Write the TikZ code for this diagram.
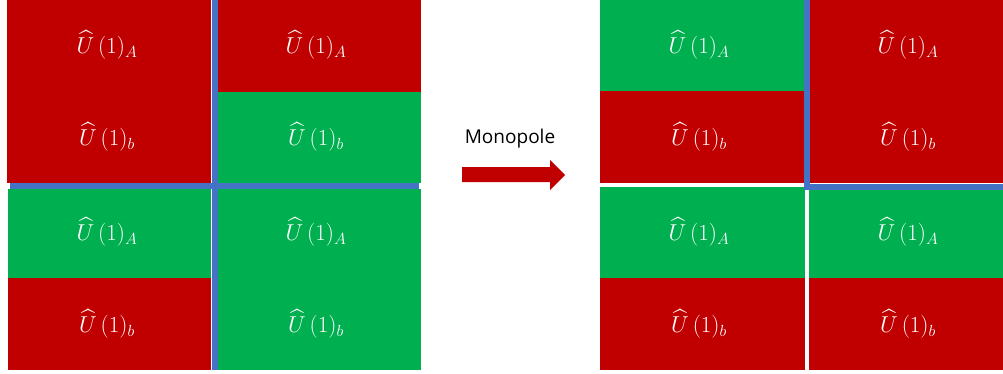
\RequirePackage{fix-cm}
\documentclass[tikz,border=0pt]{standalone}
\usepackage{amsmath}
\usepackage{fontspec}
\newfontfamily\captionfont{Open Sans}
\definecolor{cellred}{HTML}{C00000}
\definecolor{cellgreen}{HTML}{00B050}
\definecolor{wallblue}{HTML}{4472C4}
\tikzset{
  redcell/.style={fill=cellred},
  greencell/.style={fill=cellgreen},
  wall/.style={fill=wallblue},
  charge/.style={text=white, inner sep=0pt, font=\fontsize{23}{27}\selectfont},
  caption/.style={text=black, inner sep=0pt, font=\captionfont\fontsize{19}{22}\selectfont},
}
\newcommand{\UA}{$\widehat{U}\,(1)_A$}
\newcommand{\Ub}{$\widehat{U}\,(1)_b$}
\begin{document}
\begin{tikzpicture}[x=1pt, y=-1pt]
\useasboundingbox[fill=white] (0,0) rectangle (1003,373);

% ---- left configuration ----
\fill[redcell]   (7,0)   rectangle (211,183);
\fill[redcell]   (218,0) rectangle (421,92);
\fill[greencell] (218,92) rectangle (421,183);
\fill[greencell] (8,189) rectangle (211,278);
\fill[redcell]   (8,278) rectangle (211,370);
\fill[greencell] (218,189) rectangle (421,370);
\fill[wall] (211.5,0) rectangle (217.5,370);
\fill[wall] (10,183) rectangle (419,189);

\node[charge] (l1) at (107,45)  {\UA};
\node[charge] (l2) at (107,137) {\Ub};
\node[charge] (l3) at (107,232) {\UA};
\node[charge] (l4) at (107,324) {\Ub};
\node[charge] (l5) at (316,45)  {\UA};
\node[charge] (l6) at (316,137) {\Ub};
\node[charge] (l7) at (316,232) {\UA};
\node[charge] (l8) at (316,324) {\Ub};

% ---- transition arrow ----
\node[caption] (mono) at (510,139) {Monopole};
\fill[cellred] (462,167) -- (550,167) -- (550,160) -- (565,175) -- (550,190)
  -- (550,182) -- (462,182) -- cycle;

% ---- right configuration ----
\fill[greencell] (600,0)   rectangle (804,91);
\fill[redcell]   (600,91)  rectangle (804,183);
\fill[redcell]   (810,0)   rectangle (1003,183);
\fill[greencell] (600,187) rectangle (805,278);
\fill[redcell]   (600,278) rectangle (805,370);
\fill[greencell] (809,187) rectangle (1003,278);
\fill[redcell]   (809,278) rectangle (1003,370);
\fill[wall] (803.5,0) rectangle (809.5,190);
\fill[wall] (803.5,183.5) rectangle (1003,190);

\node[charge] (r1) at (699,45)  {\UA};
\node[charge] (r2) at (699,137) {\Ub};
\node[charge] (r3) at (699,232) {\UA};
\node[charge] (r4) at (699,324) {\Ub};
\node[charge] (r5) at (908,45)  {\UA};
\node[charge] (r6) at (908,137) {\Ub};
\node[charge] (r7) at (908,232) {\UA};
\node[charge] (r8) at (908,324) {\Ub};
\end{tikzpicture}
\end{document}
